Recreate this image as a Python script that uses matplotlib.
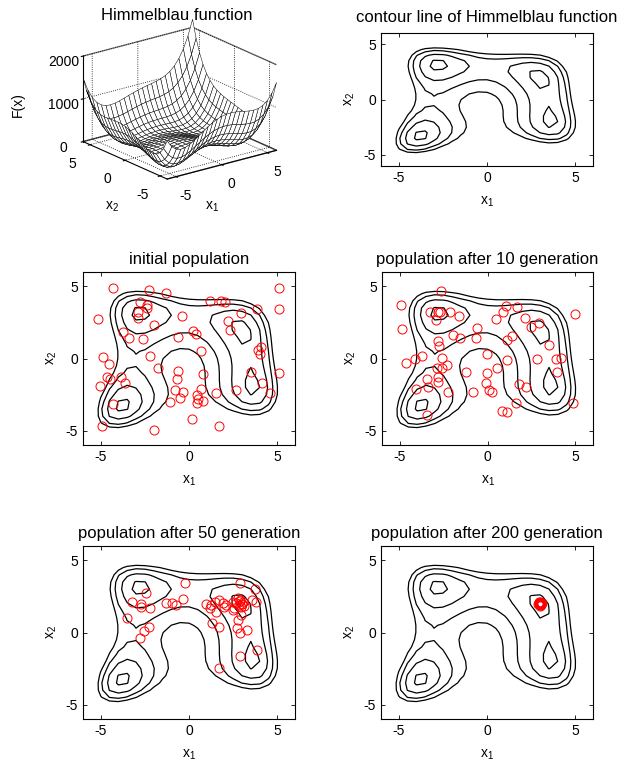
import numpy as np
import matplotlib
matplotlib.use('Agg')
import matplotlib.pyplot as plt
from mpl_toolkits.mplot3d import proj3d

plt.rcParams['font.family'] = ['Liberation Sans', 'DejaVu Sans']
plt.rcParams['font.size'] = 10
plt.rcParams['mathtext.default'] = 'regular'
plt.rcParams['axes.unicode_minus'] = False

# grid and contour levels
grid_x1 = np.arange(-6, 6.01, 0.5)
grid_x2 = np.arange(-6, 6.01, 0.5)
contour_levels = [10, 50, 100, 150]
z_ticks = [0, 1000, 2000]
xy_ticks = [-5, 0, 5]

# initial population
pop0_x1 = [-4.32, -2.25, -1.33, -5.14, -2.76, -2.38, -2.40, -2.86, -2.86, -1.96,
           -3.75, -3.39, -2.61, -0.42, -0.63, 0.23, 0.38, 1.18, 1.81, 2.04,
           2.95, 3.87, 5.10, 5.09, 2.19, 2.32, 0.70, 3.92, 4.10, 4.00,
           -4.84, -4.51, -2.19, -1.77, -4.63, -4.50, -3.85, -3.62, -5.05, -0.61,
           -0.70, 0.80, 0.67, -0.82, -0.34, -0.53, -1.05, 0.44, 0.53, 0.80,
           0.46, 1.52, 2.67, 3.52, 4.13, 4.61, 5.10, -4.32, -4.90, -2.00,
           0.19, 1.71]
pop0_x2 = [4.87, 4.78, 4.55, 2.76, 3.91, 3.68, 3.50, 3.26, 2.80, 2.30,
           1.84, 1.45, 1.33, 2.94, 1.49, 1.89, 1.72, 3.98, 3.98, 3.91,
           3.15, 3.45, 4.90, 3.40, 2.57, 2.00, 0.51, 0.57, 0.80, 0.28,
           0.11, -0.41, 0.18, -0.69, -1.26, -1.45, -1.26, -1.72, -1.89, -0.87,
           -1.43, -1.10, -2.11, -2.18, -2.30, -2.71, -2.99, -2.53, -2.83, -2.94,
           -3.10, -2.41, -2.18, -0.92, -1.68, -2.41, -0.99, -3.17, -4.71, -4.99,
           -4.18, -4.71]

# population after 10 generations
pop10_x1 = [-2.64, -4.90, -3.28, -2.80, -2.70, -2.93, -2.13, -1.61, -4.87, -1.97,
            -1.55, -2.80, -2.76, -0.59, -0.63, 1.03, 0.88, 1.70, 0.46, 2.15,
            2.47, 2.95, 5.00, 1.42, 1.09, 3.52, -0.02, 1.09, 2.82, 3.91,
            4.20, 3.95, -4.66, -4.14, -3.70, -2.57, -2.28, -2.61, -2.89, -1.21,
            -0.02, 0.52, -3.43, -2.80, -2.80, -4.04, -3.41, -2.22, -0.06, 0.08,
            0.27, -0.82, 1.80, 2.18, 1.61, 0.84, 1.09, -3.43, 4.87]
pop10_x2 = [4.71, 3.68, 3.26, 3.26, 3.22, 2.64, 3.26, 2.94, 2.02, 1.61,
            1.45, 1.20, 0.87, 2.11, 1.43, 3.63, 3.26, 3.56, 2.76, 2.80,
            2.18, 2.46, 3.06, 1.54, 1.26, 0.97, 0.34, -0.11, -0.05, 0.00,
            0.05, -0.92, -0.34, 0.00, 0.18, 0.05, -0.46, -0.69, -0.64, -0.92,
            -1.03, -0.64, -1.43, -1.26, -1.66, -2.11, -1.95, -2.30, -1.72, -2.18,
            -2.30, -2.30, -1.79, -1.95, -3.10, -3.63, -3.72, -3.91, -3.06]

# population after 50 generations
pop50_x1 = [-0.23, -2.42, -3.20, -2.70, -2.70, -2.19, -3.49, -1.28, -0.95, -0.76,
            -0.32, -2.29, -2.57, -2.80, 0.95, 1.18, 1.68, 1.90, 2.10, 2.48,
            2.67, 2.82, 2.86, 2.95, 2.48, 2.91, 3.71, 3.58, 3.77, 1.52,
            2.95, 2.76, 1.33, 1.68, 2.72, 2.86, 3.30, 2.90, 3.87, 1.71,
            2.76, 3.05, 3.10, 2.55, 2.00, 1.45, 1.25, 3.00, 2.88, 3.02]
pop50_x2 = [3.40, 2.76, 2.14, 1.75, 1.98, 1.68, 1.03, 2.07, 2.02, 1.91,
            2.32, 0.41, 0.07, -0.39, 1.98, 1.68, 2.25, 2.07, 1.91, 2.14,
            2.02, 1.91, 2.25, 1.79, 1.56, 3.40, 3.01, 2.25, 2.14, 1.45,
            1.22, 0.87, 0.64, 0.37, 0.30, -0.05, 0.18, -1.61, -1.20, -2.46,
            2.36, 2.10, 1.86, 1.72, 1.80, 2.10, 1.90, 2.00, 2.18, 1.95]

# population after 200 generations
pop200_x1 = [3.00, 2.96, 3.04, 2.92, 3.08, 3.00, 2.95, 3.05, 2.90, 3.10,
             2.98, 3.02, 2.94, 3.06, 3.00]
pop200_x2 = [2.00, 1.96, 2.04, 2.06, 1.95, 1.90, 2.10, 1.92, 2.00, 2.02,
             1.86, 2.12, 1.98, 2.08, 2.02]

titles = ['initial population', 'population after 10 generation',
          'population after 50 generation', 'population after 200 generation']


def himmelblau(x1, x2):
    return (x1 ** 2 + x2 - 11) ** 2 + (x1 + x2 ** 2 - 7) ** 2


W, H = 626.0, 771.0


def box(left, top, right, bottom):
    return [left / W, 1 - bottom / H, (right - left) / W, (bottom - top) / H]


def style_axes(ax):
    ax.set_xlim(-6, 6)
    ax.set_ylim(-6, 6)
    ax.set_xticks(xy_ticks)
    ax.set_yticks(xy_ticks)
    ax.tick_params(direction='in', top=True, right=True, length=3, width=0.6)
    for s in ax.spines.values():
        s.set_linewidth(0.8)
    ax.set_xlabel('x$_1$', labelpad=7)
    ax.set_ylabel('x$_2$', labelpad=5)


X1, X2 = np.meshgrid(grid_x1, grid_x2)
F = himmelblau(X1, X2)

fig = plt.figure(figsize=(6.26, 7.71), dpi=100)

# 3d mesh (flattened box, orthographic, like the stretched matlab view)
ax3 = fig.add_axes(box(22, 1.5, 332, 210.5), projection='3d')
ax3.plot_surface(X1, X2, F, color='white', edgecolor='black', linewidth=0.35,
                 shade=False, rstride=1, cstride=1)
ax3.set_proj_type('ortho')
ax3.view_init(elev=20, azim=-127.5)
ax3.set_box_aspect((1, 1, 0.66))
ax3.set_xlim(-6, 6)
ax3.set_ylim(-6, 6)
ax3.set_zlim(0, 2000)
ax3.set_xticks(xy_ticks)
ax3.set_yticks(xy_ticks)
ax3.set_zticks(z_ticks)
ax3.xaxis.set_tick_params(labelbottom=False)
ax3.yaxis.set_tick_params(labelbottom=False)
ax3.zaxis.set_tick_params(pad=0)
for axis in (ax3.xaxis, ax3.yaxis, ax3.zaxis):
    axis.pane.set_facecolor((1, 1, 1, 0))
    axis.pane.set_edgecolor((0, 0, 0, 0))
    axis._axinfo['grid'].update(color='black', linestyle=':', linewidth=0.6)

# tick labels of the floor axes, projected a bit outside the box
fig.canvas.draw()
M = ax3.get_proj()
for t in xy_ticks:
    px, py, _ = proj3d.proj_transform(-7.9, t, -340, M)
    ax3.text2D(px, py, str(t), transform=ax3.transData, ha='center', va='center')
    px, py, _ = proj3d.proj_transform(t, -7.4, -360, M)
    ax3.text2D(px, py, str(t), transform=ax3.transData, ha='center', va='center')

fig.text(177 / W, 1 - 15 / H, 'Himmelblau function', ha='center', va='center',
         fontsize=12)
fig.text(18 / W, 1 - 105 / H, 'F(x)', ha='center', va='center', rotation=90)
fig.text(112 / W, 1 - 207 / H, 'x$_2$', ha='center', va='center')
fig.text(212 / W, 1 - 207 / H, 'x$_1$', ha='center', va='center')

# contour only
ax = fig.add_axes(box(381, 33, 593, 166))
ax.contour(X1, X2, F, levels=contour_levels, colors='black', linewidths=0.9)
style_axes(ax)
ax.set_title('contour line of Himmelblau function', pad=8)

pops = [(pop0_x1, pop0_x2), (pop10_x1, pop10_x2),
        (pop50_x1, pop50_x2), (pop200_x1, pop200_x2)]
boxes = [box(83, 272, 295, 445), box(382, 272, 593, 445),
         box(83, 546, 295, 719), box(381, 546, 593, 719)]

for (px, py), b, t in zip(pops, boxes, titles):
    ax = fig.add_axes(b)
    ax.contour(X1, X2, F, levels=contour_levels, colors='black', linewidths=0.9)
    ax.plot(px, py, 'o', markerfacecolor='none', markeredgecolor='red',
            markersize=6.5, markeredgewidth=0.7)
    style_axes(ax)
    ax.set_title(t, pad=6)

fig.savefig('out.png', dpi=100)
